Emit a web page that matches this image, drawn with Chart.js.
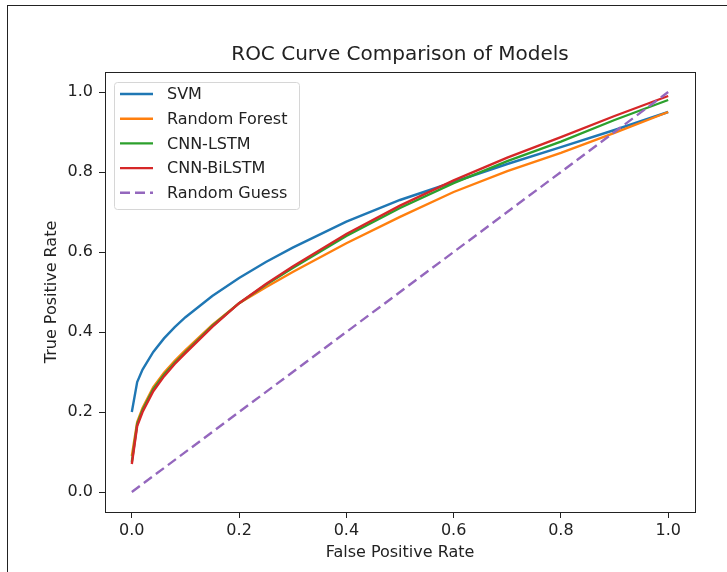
<!DOCTYPE html>
<html>
<head>
<meta charset="utf-8">
<script src="https://cdn.jsdelivr.net/npm/chart.js@4.4.0/dist/chart.umd.min.js"></script>
<style>
  html, body { margin: 0; padding: 0; background: #fff; }
  #wrap { position: relative; width: 727px; height: 572px; }
  #frame { position: absolute; left: 7px; top: 5px; right: 0; bottom: 0;
           border-left: 1px solid #222; border-top: 1px solid #222; pointer-events: none; }
</style>
</head>
<body>
<div id="wrap">
  <canvas id="roc" width="727" height="572"></canvas>
  <div id="frame"></div>
</div>
<script>
// false positive rate grid
const fpr = [0, 0.01, 0.02, 0.04, 0.06, 0.08, 0.1, 0.15, 0.2, 0.25, 0.3, 0.4, 0.5, 0.6, 0.7, 0.8, 0.9, 1.0];

// true positive rate per model
const svm        = [0.20, 0.275, 0.306, 0.35, 0.384, 0.412, 0.437, 0.49, 0.535, 0.575, 0.611, 0.676, 0.73, 0.775, 0.82, 0.862, 0.905, 0.95];
const rf         = [0.09, 0.175, 0.21, 0.262, 0.298, 0.328, 0.355, 0.418, 0.472, 0.512, 0.55, 0.622, 0.688, 0.75, 0.802, 0.848, 0.898, 0.95];
const cnnLstm    = [0.075, 0.17, 0.205, 0.257, 0.293, 0.323, 0.35, 0.415, 0.472, 0.518, 0.56, 0.64, 0.71, 0.772, 0.827, 0.876, 0.93, 0.98];
const cnnBiLstm  = [0.07, 0.165, 0.2, 0.252, 0.289, 0.32, 0.347, 0.413, 0.472, 0.52, 0.564, 0.645, 0.716, 0.779, 0.836, 0.887, 0.94, 0.99];
const guessX     = [0, 1];
const guessY     = [0, 1];

const xTickVals = [0, 0.2, 0.4, 0.6, 0.8, 1.0];
const xTickLabels = ['0.0', '0.2', '0.4', '0.6', '0.8', '1.0'];
const yTickVals = [0, 0.2, 0.4, 0.6, 0.8, 1.0];
const yTickLabels = ['0.0', '0.2', '0.4', '0.6', '0.8', '1.0'];

const pts = (xs, ys) => xs.map((x, i) => ({ x: x, y: ys[i] }));

const FONT = 'DejaVu Sans';
const INK = '#222';

// spines on top and right, like matplotlib
const boxSpines = {
  id: 'boxSpines',
  afterDraw(chart) {
    const { ctx, chartArea: a } = chart;
    ctx.save();
    ctx.strokeStyle = INK;
    ctx.lineWidth = 1;
    ctx.strokeRect(Math.round(a.left) + 0.5, Math.round(a.top) + 0.5,
                   Math.round(a.right - a.left), Math.round(a.bottom - a.top));
    ctx.restore();
  }
};

// legend box inside the axes, upper left
const innerLegend = {
  id: 'innerLegend',
  afterDraw(chart) {
    const { ctx, chartArea: a } = chart;
    const sets = chart.data.datasets;
    const x0 = a.left + 9, y0 = a.top + 10, w = 185, h = 127, r = 3;
    ctx.save();
    ctx.beginPath();
    ctx.roundRect(x0 + 0.5, y0 + 0.5, w, h, r);
    ctx.fillStyle = 'rgba(255,255,255,0.8)';
    ctx.fill();
    ctx.strokeStyle = '#d6d6d6';
    ctx.lineWidth = 1;
    ctx.stroke();
    ctx.font = '16px "' + FONT + '"';
    ctx.textBaseline = 'middle';
    sets.forEach((ds, i) => {
      const cy = y0 + 12 + i * 24.7;
      ctx.beginPath();
      ctx.setLineDash(ds.borderDash || []);
      ctx.strokeStyle = ds.borderColor;
      ctx.lineWidth = ds.borderWidth;
      ctx.moveTo(x0 + 6, cy);
      ctx.lineTo(x0 + 39, cy);
      ctx.stroke();
      ctx.setLineDash([]);
      ctx.fillStyle = INK;
      ctx.fillText(ds.label, x0 + 53, cy + 1);
    });
    ctx.restore();
  }
};

new Chart(document.getElementById('roc'), {
  type: 'line',
  data: {
    datasets: [
      { label: 'SVM', data: pts(fpr, svm), borderColor: '#1f77b4', order: 5 },
      { label: 'Random Forest', data: pts(fpr, rf), borderColor: '#ff7f0e', order: 4 },
      { label: 'CNN-LSTM', data: pts(fpr, cnnLstm), borderColor: '#2ca02c', order: 3 },
      { label: 'CNN-BiLSTM', data: pts(fpr, cnnBiLstm), borderColor: '#d62728', order: 2 },
      { label: 'Random Guess', data: pts(guessX, guessY), borderColor: '#9467bd', borderDash: [10, 5], order: 1 }
    ].map(ds => Object.assign({ borderWidth: 2.4, pointRadius: 0, fill: false, tension: 0 }, ds))
  },
  options: {
    responsive: false,
    animation: false,
    events: [],
    layout: { padding: { left: 0, right: 32, top: 0, bottom: 0 } },
    plugins: {
      legend: { display: false },
      tooltip: { enabled: false },
      title: {
        display: true,
        text: 'ROC Curve Comparison of Models',
        fullSize: false,
        color: INK,
        font: { family: FONT, size: 20, weight: 'normal' },
        padding: { top: 43, bottom: 5 }
      }
    },
    scales: {
      x: {
        type: 'linear',
        min: -0.05, max: 1.05,
        afterBuildTicks: s => { s.ticks = xTickVals.map(v => ({ value: v })); },
        afterFit: s => { s.height = 60; },
        ticks: {
          color: INK, padding: 3, maxRotation: 0,
          font: { family: FONT, size: 16 },
          callback: (v, i) => xTickLabels[i]
        },
        grid: { drawOnChartArea: false, drawTicks: true, tickLength: 6, color: INK },
        border: { display: true, color: INK, width: 1 },
        title: {
          display: true, text: 'False Positive Rate', color: INK,
          font: { family: FONT, size: 16 }, padding: { top: 0, bottom: 10 }
        }
      },
      y: {
        type: 'linear',
        min: -0.05, max: 1.05,
        afterBuildTicks: s => { s.ticks = yTickVals.map(v => ({ value: v })); },
        afterFit: s => { s.width = 105; },
        ticks: {
          color: INK, padding: 6,
          font: { family: FONT, size: 16 },
          callback: (v, i) => yTickLabels[i]
        },
        grid: { drawOnChartArea: false, drawTicks: true, tickLength: 6, color: INK },
        border: { display: true, color: INK, width: 1 },
        title: {
          display: true, text: 'True Positive Rate', color: INK,
          font: { family: FONT, size: 16 }, padding: { top: 42, bottom: 0 }
        }
      }
    }
  },
  plugins: [boxSpines, innerLegend]
});
</script>
</body>
</html>
